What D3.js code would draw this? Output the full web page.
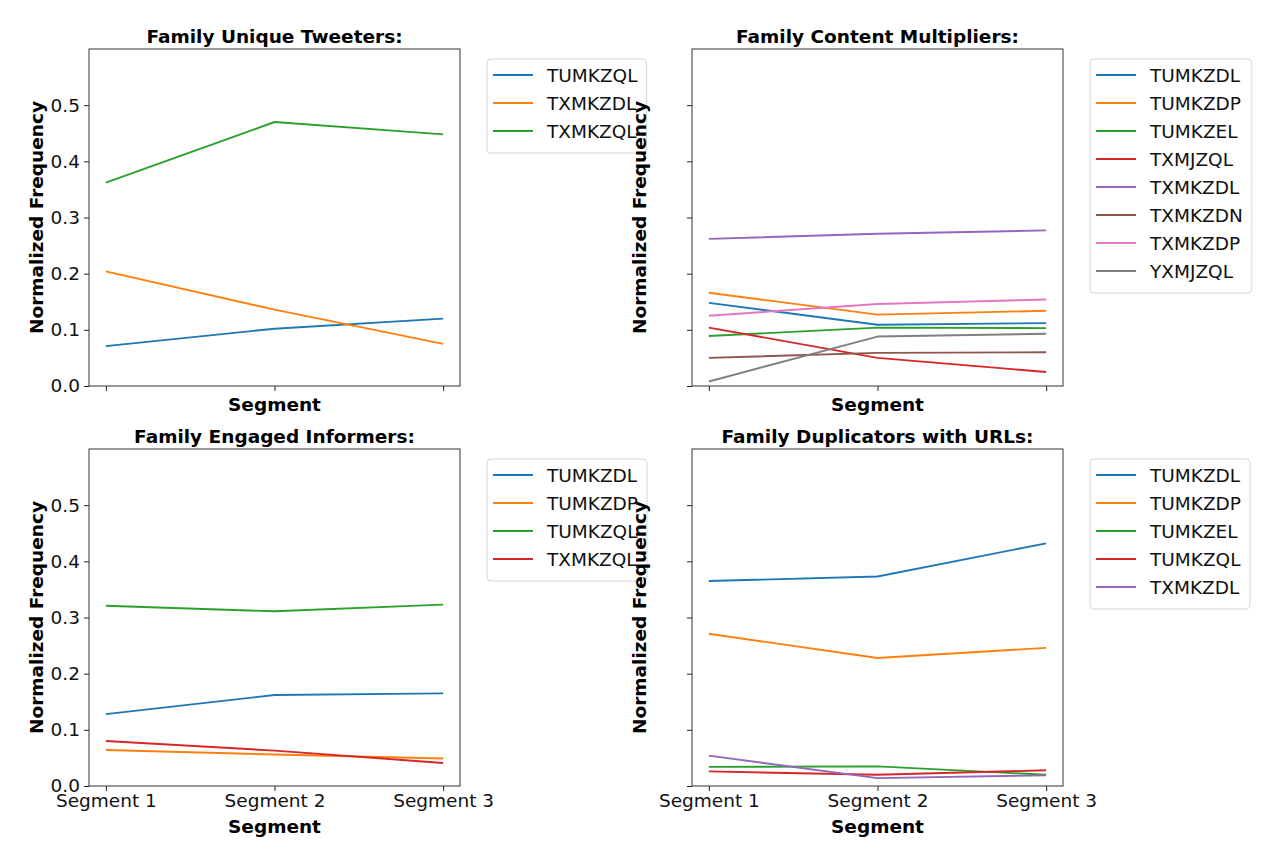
<!DOCTYPE html>
<html><head><meta charset="utf-8">
<script src="https://cdn.jsdelivr.net/npm/d3@7"></script>
<style>body{margin:0;background:#fff;} svg{display:block;font-family:"DejaVu Sans",sans-serif;}</style>
</head><body>
<svg id="c" width="1281" height="864"></svg>
<script>
const segments = ["Segment 1","Segment 2","Segment 3"];
const yTicks = [0.0,0.1,0.2,0.3,0.4,0.5];
const palette = ["#1f77b4","#ff7f0e","#2ca02c","#d62728","#9467bd","#8c564b","#e377c2","#7f7f7f"];

const titles = ["Family Unique Tweeters:","Family Content Multipliers:","Family Engaged Informers:","Family Duplicators with URLs:"];

const uniqueNames = ["TUMKZQL","TXMKZDL","TXMKZQL"];
const uniqueValues = [[0.071,0.102,0.120],[0.204,0.136,0.075],[0.362,0.470,0.448]];

const contentNames = ["TUMKZDL","TUMKZDP","TUMKZEL","TXMJZQL","TXMKZDL","TXMKZDN","TXMKZDP","YXMJZQL"];
const contentValues = [[0.148,0.109,0.112],[0.166,0.127,0.134],[0.089,0.104,0.103],[0.104,0.050,0.025],
  [0.262,0.271,0.277],[0.050,0.059,0.060],[0.125,0.146,0.154],[0.008,0.088,0.093]];

const engagedNames = ["TUMKZDL","TUMKZDP","TUMKZQL","TXMKZQL"];
const engagedValues = [[0.128,0.162,0.165],[0.064,0.056,0.049],[0.321,0.311,0.323],[0.080,0.063,0.041]];

const dupNames = ["TUMKZDL","TUMKZDP","TUMKZEL","TUMKZQL","TXMKZDL"];
const dupValues = [[0.365,0.373,0.432],[0.271,0.228,0.246],[0.034,0.035,0.020],[0.026,0.020,0.028],[0.054,0.014,0.019]];

const panels = [
  {names:uniqueNames, values:uniqueValues, x0:89, y0:49, showY:true, showX:false},
  {names:contentNames, values:contentValues, x0:692, y0:49, showY:false, showX:false},
  {names:engagedNames, values:engagedValues, x0:89, y0:449, showY:true, showX:true},
  {names:dupNames, values:dupValues, x0:692, y0:449, showY:false, showX:true}
];

const W = 371, H = 337;
const svg = d3.select("#c");
const FS = 18.5;

panels.forEach((p,i)=>{
  const g = svg.append("g").attr("transform",`translate(${p.x0},${p.y0})`);
  const x = d3.scaleLinear().domain([-0.1,2.1]).range([0,W]);
  const y = d3.scaleLinear().domain([0,0.6]).range([H,0]);

  const line = d3.line().x((d,j)=>x(j)).y(d=>y(d));
  p.values.forEach((vals,k)=>{
    g.append("path").attr("d",line(vals)).attr("fill","none")
      .attr("stroke",palette[k]).attr("stroke-width",1.9).attr("stroke-linejoin","round");
  });

  const ya = d3.axisLeft(y).tickValues(yTicks).tickSize(5).tickPadding(4)
    .tickFormat(p.showY ? d3.format(".1f") : "");
  const yg = g.append("g").call(ya);
  const xa = d3.axisBottom(x).tickValues([0,1,2]).tickSize(5).tickPadding(3)
    .tickFormat(p.showX ? (d=>segments[d]) : "");
  const xg = g.append("g").attr("transform",`translate(0,${H})`).call(xa);
  [yg,xg].forEach(a=>{
    a.select(".domain").remove();
    a.selectAll("line").attr("stroke","#222");
    a.selectAll("text").attr("font-size",FS).attr("font-family","DejaVu Sans").attr("fill","#111");
  });
  g.append("rect").attr("width",W).attr("height",H).attr("fill","none").attr("stroke","#333").attr("stroke-width",1);

  g.append("text").attr("x",W/2).attr("y",-6).attr("text-anchor","middle")
    .attr("font-weight","bold").attr("font-size",FS).text(titles[i]);
  g.append("text").attr("x",W/2).attr("y",p.showX ? H+47 : H+25).attr("text-anchor","middle")
    .attr("font-weight","bold").attr("font-size",FS).text("Segment");
  g.append("text").attr("transform",`translate(-46,${H/2}) rotate(-90)`).attr("text-anchor","middle")
    .attr("font-weight","bold").attr("font-size",FS).text("Normalized Frequency");

  // legend
  const lg = g.append("g").attr("transform",`translate(${W+27},10)`);
  const lh = 18 + p.names.length*28 - 8;
  const box = lg.append("rect").attr("height",lh).attr("rx",4)
    .attr("fill","#fff").attr("fill-opacity",0.8).attr("stroke","#d6d6d6");
  let maxw = 0;
  p.names.forEach((n,k)=>{
    const yy = 16 + k*28;
    lg.append("line").attr("x1",6).attr("x2",46).attr("y1",yy).attr("y2",yy)
      .attr("stroke",palette[k]).attr("stroke-width",1.9);
    const t = lg.append("text").attr("x",60).attr("y",yy+7).attr("font-size",FS).attr("fill","#111").text(n);
    maxw = Math.max(maxw, t.node().getComputedTextLength());
  });
  box.attr("width", 60 + maxw + 9);
});
</script>
</body></html>
